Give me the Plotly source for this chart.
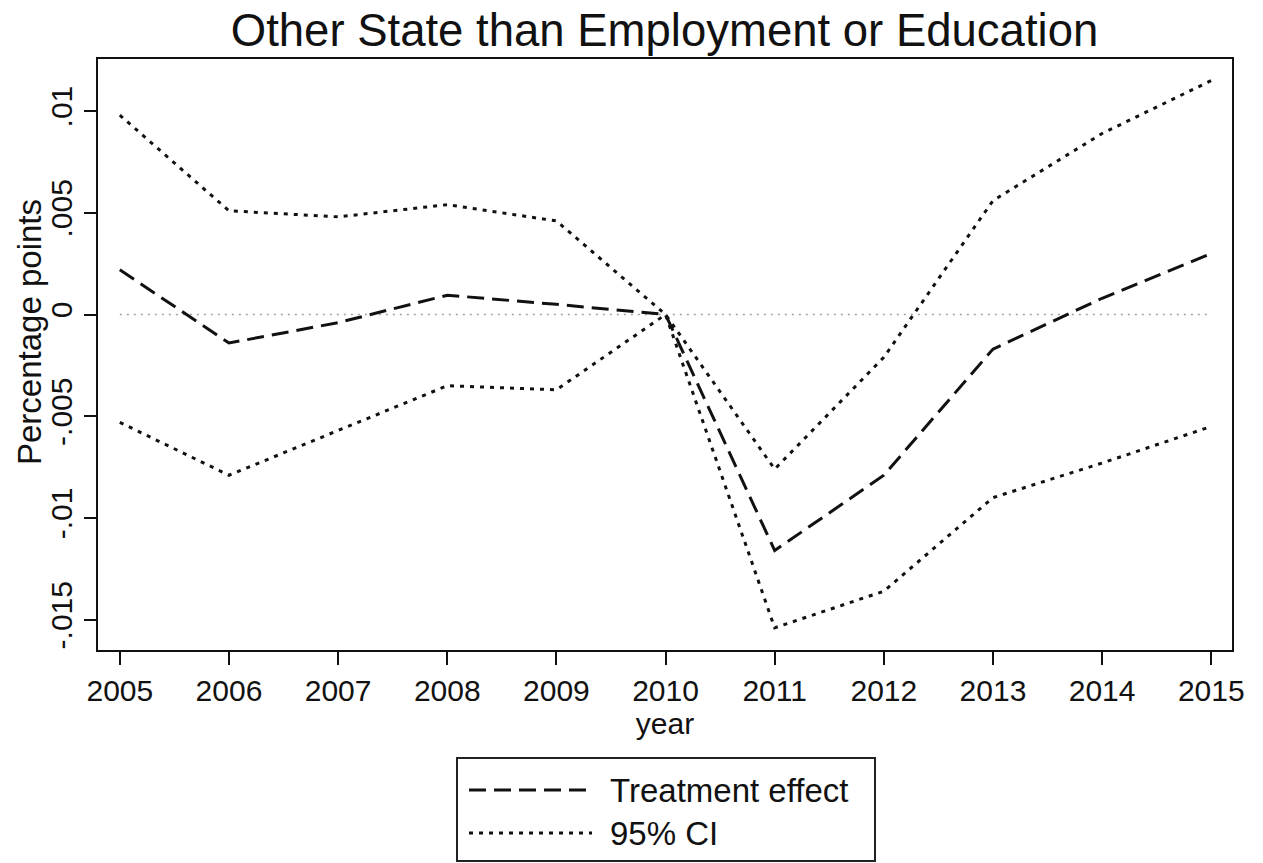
import plotly.graph_objects as go

# Event-study estimates: other state than employment or education
years = [2005, 2006, 2007, 2008, 2009, 2010, 2011, 2012, 2013, 2014, 2015]
effect = [0.0022, -0.0014, -0.0004, 0.00095, 0.0005, 0.0, -0.0116, -0.0079, -0.0017, 0.0008, 0.0030]
ci_upper = [0.0098, 0.0051, 0.0048, 0.0054, 0.0046, 0.0, -0.0076, -0.0021, 0.0056, 0.0089, 0.0115]
ci_lower = [-0.0053, -0.0079, -0.0057, -0.0035, -0.0037, 0.0, -0.0154, -0.0136, -0.0090, -0.0073, -0.0055]

y_ticks = [0.01, 0.005, 0, -0.005, -0.01, -0.015]
y_tick_text = [".01", ".005", "0", "-.005", "-.01", "-.015"]

FONT = "Liberation Sans, Arial, sans-serif"
INK = "#111111"
DASH_EFFECT = "17px,8px"
DASH_CI = "4px,6px"

W, H = 1263, 863
ML, MR, MT, MB = 98, 31, 59, 213
PW, PH = W - ML - MR, H - MT - MB


def px_x(px):
    return (px - ML) / PW


def px_y(py):
    return (H - MB - py) / PH


fig = go.Figure()

fig.add_trace(go.Scatter(
    x=years, y=[0] * len(years), mode="lines", hoverinfo="skip", showlegend=False,
    line=dict(color="#a0a0a0", width=1.5, dash="2px,5px"),
))
fig.add_trace(go.Scatter(
    x=years, y=ci_upper, mode="lines", name="95% CI", showlegend=False,
    line=dict(color=INK, width=3, dash=DASH_CI),
))
fig.add_trace(go.Scatter(
    x=years, y=ci_lower, mode="lines", name="95% CI", showlegend=False,
    line=dict(color=INK, width=3, dash=DASH_CI),
))
fig.add_trace(go.Scatter(
    x=years, y=effect, mode="lines", name="Treatment effect", showlegend=False,
    line=dict(color=INK, width=3, dash=DASH_EFFECT),
))

# Legend box drawn below the plot
legend_shapes = [
    dict(type="rect", xref="paper", yref="paper",
         x0=px_x(457), x1=px_x(875), y0=px_y(861), y1=px_y(758),
         line=dict(color="#222222", width=2), fillcolor="white"),
    dict(type="line", xref="paper", yref="paper",
         x0=px_x(469), x1=px_x(592), y0=px_y(790), y1=px_y(790),
         line=dict(color=INK, width=3, dash=DASH_EFFECT)),
    dict(type="line", xref="paper", yref="paper",
         x0=px_x(469), x1=px_x(592), y0=px_y(833), y1=px_y(833),
         line=dict(color=INK, width=3, dash=DASH_CI)),
]
text_notes = [
    dict(text="Treatment effect", xref="paper", yref="paper", x=px_x(608), y=px_y(790),
         xanchor="left", yanchor="middle", showarrow=False,
         font=dict(family=FONT, size=33, color=INK)),
    dict(text="95% CI", xref="paper", yref="paper", x=px_x(608), y=px_y(833),
         xanchor="left", yanchor="middle", showarrow=False,
         font=dict(family=FONT, size=33, color=INK)),
    # y-axis title
    dict(text="Percentage points", xref="paper", yref="paper", x=px_x(29), y=px_y(332),
         xanchor="center", yanchor="middle", textangle=-90, showarrow=False,
         font=dict(family=FONT, size=33, color=INK)),
]

fig.update_layout(
    width=W, height=H,
    margin=dict(l=ML, r=MR, t=MT, b=MB),
    paper_bgcolor="white", plot_bgcolor="white",
    font=dict(family=FONT, color=INK),
    title=dict(text="Other State than Employment or Education",
               x=(232 + 1097) / 2 / W, xanchor="center",
               y=1 - 30 / H, yanchor="middle", yref="container",
               font=dict(family=FONT, size=45.5, color=INK)),
    showlegend=False,
    shapes=legend_shapes,
    annotations=text_notes,
    xaxis=dict(
        range=[2004.8, 2015.19], tickmode="array", tickvals=years,
        ticks="outside", ticklen=13, tickwidth=2, tickcolor=INK,
        showline=True, linecolor=INK, linewidth=2, mirror=True,
        showgrid=False, zeroline=False,
        tickfont=dict(family=FONT, size=30, color=INK),
        title=dict(text="year", standoff=4, font=dict(family=FONT, size=30, color=INK)),
    ),
    yaxis=dict(
        range=[-0.01649, 0.01256], tickmode="array", tickvals=y_ticks, ticktext=y_tick_text,
        tickangle=-90,
        ticks="outside", ticklen=12, tickwidth=2, tickcolor=INK,
        showline=True, linecolor=INK, linewidth=2, mirror=True,
        showgrid=False, zeroline=False,
        tickfont=dict(family=FONT, size=30, color=INK),
    ),
)

fig.write_html("out.html")
